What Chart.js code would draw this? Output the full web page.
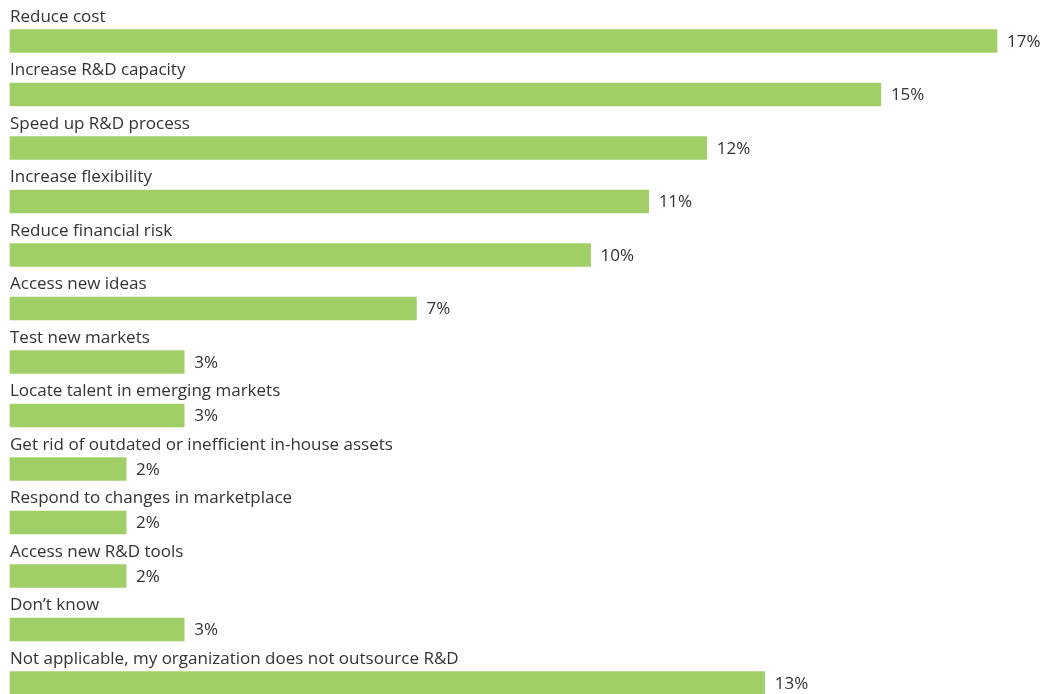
<!DOCTYPE html>
<html>
<head>
<meta charset="utf-8">
<script src="https://cdn.jsdelivr.net/npm/chart.js@4/dist/chart.umd.min.js"></script>
<style>
  html, body { margin:0; padding:0; background:#fff; overflow:hidden; }
  #wrap { width:1056px; height:694px; position:relative; }
</style>
</head>
<body>
<div id="wrap"><canvas id="chart"></canvas></div>
<script>
const reasons = [
  'Reduce cost',
  'Increase R&D capacity',
  'Speed up R&D process',
  'Increase flexibility',
  'Reduce financial risk',
  'Access new ideas',
  'Test new markets',
  'Locate talent in emerging markets',
  'Get rid of outdated or inefficient in-house assets',
  'Respond to changes in marketplace',
  'Access new R&D tools',
  'Don\u2019t know',
  'Not applicable, my organization does not outsource R&D'
];
const shares = [17, 15, 12, 11, 10, 7, 3, 3, 2, 2, 2, 3, 13];

const BAR_GREEN = '#a0cf67';
const TEXT_GREY = '#333333';
const FONT = '17px "Open Sans", "Noto Sans", sans-serif';

// category name above each bar, percentage to its right
const barText = {
  id: 'barText',
  afterDatasetsDraw(chart){
    const ctx = chart.ctx;
    const meta = chart.getDatasetMeta(0);
    ctx.save();
    ctx.font = FONT;
    ctx.fillStyle = TEXT_GREY;
    ctx.textBaseline = 'middle';
    ctx.textAlign = 'left';
    meta.data.forEach((bar, i) => {
      ctx.fillText(reasons[i], bar.base, bar.y - 24);
      ctx.fillText(shares[i] + '%', bar.x + 10, bar.y + 1);
    });
    ctx.restore();
  }
};

new Chart(document.getElementById('chart'), {
  type: 'bar',
  data: {
    labels: reasons,
    datasets: [{
      data: shares,
      backgroundColor: BAR_GREEN,
      barThickness: 23,
      clip: false
    }]
  },
  options: {
    indexAxis: 'y',
    responsive: true,
    maintainAspectRatio: false,
    animation: false,
    layout: { padding: { left: 10, right: 59, top: 41, bottom: 11 } },
    scales: {
      x: { display: false, min: 0, max: 17 },
      y: { display: false, offset: false }
    },
    plugins: { legend: { display: false }, tooltip: { enabled: false } }
  },
  plugins: [barText]
});
</script>
</body>
</html>
